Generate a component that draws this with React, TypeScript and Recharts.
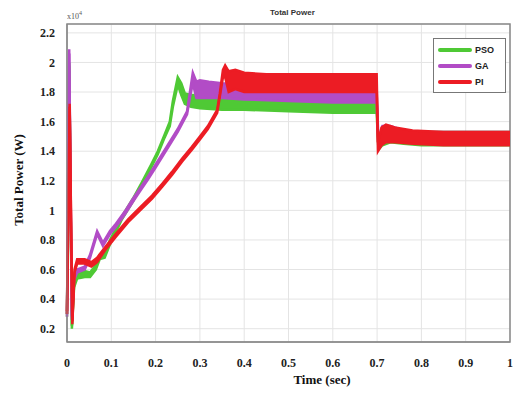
import { ComposedChart, Area, XAxis, YAxis, CartesianGrid, Legend, ReferenceArea } from "recharts"

// time axis ticks
const xTicks = [0, 0.1, 0.2, 0.3, 0.4, 0.5, 0.6, 0.7, 0.8, 0.9, 1]
const yTicks = [0.2, 0.4, 0.6, 0.8, 1, 1.2, 1.4, 1.6, 1.8, 2, 2.2]

// PSO controller (x10^4 W) - upper / lower edge of the ripple band
const psoTime = [0, 0.005, 0.011, 0.016, 0.023, 0.04, 0.052, 0.065, 0.074, 0.085, 0.097, 0.124, 0.149, 0.169, 0.19, 0.205, 0.22, 0.232, 0.239, 0.25, 0.258, 0.266, 0.28, 0.3, 0.35, 0.4, 0.5, 0.6, 0.699, 0.703, 0.712, 0.73, 0.76, 0.8, 0.9, 1.0]
const psoHigh = [0.3, 2.0, 0.22, 0.5, 0.58, 0.59, 0.58, 0.63, 0.7, 0.71, 0.8, 0.96, 1.08, 1.19, 1.31, 1.4, 1.51, 1.6, 1.74, 1.9, 1.86, 1.79, 1.78, 1.78, 1.77, 1.77, 1.76, 1.75, 1.74, 1.46, 1.55, 1.56, 1.53, 1.53, 1.53, 1.53]
const psoLow = [0.28, 1.98, 0.2, 0.48, 0.54, 0.55, 0.55, 0.6, 0.67, 0.68, 0.77, 0.94, 1.06, 1.17, 1.29, 1.38, 1.49, 1.57, 1.7, 1.85, 1.78, 1.72, 1.7, 1.69, 1.68, 1.68, 1.67, 1.66, 1.66, 1.41, 1.44, 1.46, 1.45, 1.44, 1.44, 1.44]

// GA controller
const gaTime = [0, 0.005, 0.011, 0.016, 0.023, 0.04, 0.052, 0.068, 0.081, 0.097, 0.108, 0.13, 0.147, 0.165, 0.183, 0.2, 0.221, 0.25, 0.271, 0.278, 0.284, 0.292, 0.3, 0.32, 0.35, 0.4, 0.5, 0.6, 0.699, 0.703, 0.712, 0.73, 0.76, 0.8, 0.9, 1.0]
const gaHigh = [0.3, 2.09, 0.28, 0.55, 0.6, 0.62, 0.7, 0.86, 0.78, 0.86, 0.9, 0.99, 1.07, 1.15, 1.23, 1.31, 1.41, 1.55, 1.67, 1.81, 1.93, 1.87, 1.88, 1.87, 1.86, 1.85, 1.84, 1.83, 1.82, 1.47, 1.57, 1.57, 1.54, 1.53, 1.53, 1.53]
const gaLow = [0.28, 2.06, 0.26, 0.53, 0.58, 0.6, 0.68, 0.84, 0.76, 0.84, 0.88, 0.97, 1.05, 1.13, 1.21, 1.29, 1.39, 1.53, 1.65, 1.77, 1.86, 1.76, 1.76, 1.76, 1.76, 1.75, 1.74, 1.73, 1.73, 1.42, 1.46, 1.47, 1.46, 1.45, 1.45, 1.45]

// PI controller
const piTime = [0, 0.006, 0.012, 0.017, 0.023, 0.04, 0.055, 0.068, 0.086, 0.11, 0.138, 0.165, 0.192, 0.215, 0.237, 0.26, 0.282, 0.3, 0.318, 0.339, 0.345, 0.352, 0.357, 0.365, 0.38, 0.4, 0.45, 0.5, 0.6, 0.699, 0.702, 0.71, 0.72, 0.74, 0.78, 0.85, 1.0]
const piHigh = [0.32, 1.72, 0.25, 0.6, 0.67, 0.67, 0.65, 0.68, 0.75, 0.84, 0.94, 1.02, 1.1, 1.18, 1.26, 1.35, 1.43, 1.5, 1.57, 1.68, 1.79, 1.95, 1.98, 1.94, 1.95, 1.93, 1.92, 1.92, 1.92, 1.92, 1.46, 1.56, 1.58, 1.56, 1.54, 1.53, 1.53]
const piLow = [0.3, 1.7, 0.23, 0.58, 0.64, 0.64, 0.62, 0.65, 0.73, 0.82, 0.92, 1.0, 1.08, 1.16, 1.24, 1.33, 1.41, 1.48, 1.55, 1.66, 1.77, 1.9, 1.9, 1.8, 1.82, 1.8, 1.8, 1.8, 1.8, 1.8, 1.4, 1.44, 1.46, 1.46, 1.45, 1.44, 1.44]

const toRows = (time: number[], low: number[], high: number[]) =>
  time.map((t, i) => ({ t, band: [low[i], high[i]] }))

const series = [
  { name: "PSO", color: "#4fc935", data: toRows(psoTime, psoLow, psoHigh) },
  { name: "GA", color: "#b24cc6", data: toRows(gaTime, gaLow, gaHigh) },
  { name: "PI", color: "#ec1c24", data: toRows(piTime, piLow, piHigh) },
]

const serif = "'Liberation Serif', 'DejaVu Serif', serif"

function LegendBox() {
  return (
    <div style={{ border: "1px solid #777", background: "#fff", padding: "3px 3px 2px 4px", width: 64 }}>
      {series.map((s) => (
        <div key={s.name} style={{ display: "flex", alignItems: "center", height: 16 }}>
          <div style={{ width: 34, height: 4, background: s.color, borderRadius: 2 }} />
          <span style={{ marginLeft: 3, fontFamily: "Arial, sans-serif", fontSize: 9, fontWeight: 700, color: "#222" }}>
            {s.name}
          </span>
        </div>
      ))}
    </div>
  )
}

export default function App() {
  return (
    <div style={{ position: "absolute", left: 0, top: 0, width: 519, height: 402, background: "#fff" }}>
      <div style={{ position: "absolute", left: 270, top: 8, fontFamily: "Arial, sans-serif", fontSize: 8, fontWeight: 700, color: "#333" }}>
        Total Power
      </div>
      <div style={{ position: "absolute", left: 67, top: 10, fontFamily: serif, fontSize: 8, color: "#555" }}>
        x10<sup style={{ fontSize: 6 }}>4</sup>
      </div>
      <div
        style={{
          position: "absolute",
          left: 19,
          top: 180,
          transform: "translate(-50%, -50%) rotate(-90deg)",
          whiteSpace: "nowrap",
          fontFamily: serif,
          fontSize: 13,
          fontWeight: 700,
          color: "#111",
        }}
      >
        Total Power (W)
      </div>
      <div style={{ position: "absolute", left: 322, top: 380, transform: "translate(-50%, -50%)", fontFamily: serif, fontSize: 13, fontWeight: 700, color: "#111" }}>
        Time (sec)
      </div>
      <ComposedChart width={519} height={402} margin={{ top: 24, right: 9, bottom: 30, left: 20 }}>
        <CartesianGrid stroke="#e4e4e4" strokeWidth={1} />
        <XAxis
          dataKey="t"
          type="number"
          domain={[0, 1]}
          ticks={xTicks}
          allowDuplicatedCategory={false}
          stroke="#888"
          tickLine={false}
          tick={{ fontFamily: serif, fontSize: 12, fontWeight: 700, fill: "#222" }}
          tickMargin={10}
        />
        <YAxis
          type="number"
          domain={[0.11, 2.26]}
          ticks={yTicks}
          width={47}
          stroke="#888"
          tickLine={false}
          tick={{ fontFamily: serif, fontSize: 12, fontWeight: 700, fill: "#222" }}
          tickMargin={6}
        />
        <ReferenceArea x1={0} x2={1} y1={0.11} y2={2.26} fill="none" stroke="#888" strokeWidth={1.5} />
        {series.map((s) => (
          <Area
            key={s.name}
            name={s.name}
            data={s.data}
            dataKey="band"
            type="linear"
            stroke={s.color}
            strokeWidth={2.5}
            fill={s.color}
            fillOpacity={1}
            dot={false}
            activeDot={false}
            isAnimationActive={false}
          />
        ))}
        <Legend
          layout="vertical"
          align="center"
          verticalAlign="middle"
          content={<LegendBox />}
          wrapperStyle={{ left: 433, top: 38, width: 73 }}
        />
      </ComposedChart>
    </div>
  )
}
